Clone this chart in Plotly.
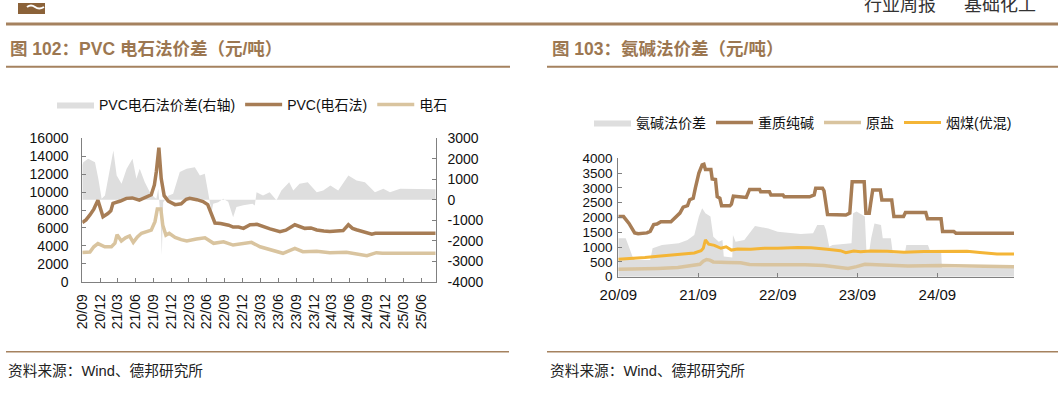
import plotly.graph_objects as go

W, H = 1064, 393

# ---------------- Left chart data (PVC) ----------------
pvc_dates = ["2020-09-01","2020-09-20","2020-10-10","2020-10-30","2020-11-20","2020-12-01","2020-12-16",
             "2021-01-10","2021-01-25","2021-02-05","2021-02-25","2021-03-15","2021-04-15","2021-05-15",
             "2021-06-20","2021-07-20","2021-08-20","2021-09-05","2021-09-15","2021-09-28","2021-10-05",
             "2021-10-10","2021-10-25","2021-11-15","2021-12-20","2022-01-20","2022-02-15","2022-03-05",
             "2022-04-10","2022-05-12","2022-06-05","2022-06-24","2022-07-12","2022-08-10","2022-08-25",
             "2022-09-20","2022-10-13","2022-11-10","2022-12-05","2023-01-08","2023-02-12","2023-03-15",
             "2023-04-20","2023-06-10","2023-07-10","2023-08-25","2023-09-20","2023-10-15","2023-11-15",
             "2023-12-15","2024-01-20","2024-02-20","2024-03-25","2024-04-28","2024-05-25","2024-06-15",
             "2024-07-05","2024-08-15","2024-09-22","2024-10-10","2025-08-15"]
pvc_price = [6600,6900,7450,8100,9100,8300,7250,
             7600,7900,8750,8850,9000,9300,9350,
             9100,9400,9700,10800,12300,14950,13000,
             11500,9600,9000,8600,8700,9200,9300,
             9150,8950,8600,7400,6550,6500,6450,
             6300,6100,6100,5950,6350,6400,6150,
             5900,5580,5750,6350,6100,5950,6000,
             5770,5650,5600,5650,5700,6350,5950,
             5800,5550,5300,5400,5400]

carbide_dates = ["2020-09-01","2020-10-10","2020-10-30","2020-11-20","2020-12-25","2021-01-28","2021-02-15",
                 "2021-02-26","2021-03-20","2021-04-10","2021-05-01","2021-05-20","2021-06-10","2021-07-01",
                 "2021-08-20","2021-09-08","2021-09-20","2021-10-08","2021-10-18","2021-11-03","2021-11-20",
                 "2021-12-20","2022-01-20","2022-02-18","2022-04-08","2022-05-22","2022-07-05","2022-08-25",
                 "2022-10-13","2022-12-05","2023-01-15","2023-02-28","2023-04-20","2023-06-25","2023-08-25",
                 "2023-10-05","2023-12-15","2024-02-20","2024-05-15","2024-08-28","2024-10-15","2024-11-15",
                 "2025-08-15"]
carbide_price = [3250,3300,3900,4250,3900,3900,4300,
                 5250,4550,4900,5100,4400,5000,5400,
                 5750,6700,8100,8100,6300,5200,5400,
                 4950,4700,4550,4760,4900,4280,4460,
                 4090,4280,4390,3900,3540,3170,3720,
                 3350,3400,3240,3280,2900,3240,3170,
                 3170]

spread_dates = ["2020-09-01","2020-09-06","2020-10-01","2020-11-05","2020-11-22","2020-12-09","2020-12-26",
                "2021-01-12","2021-02-07","2021-02-24","2021-03-21","2021-04-16","2021-05-16","2021-06-05",
                "2021-06-22","2021-07-18","2021-08-13","2021-09-03","2021-09-15","2021-09-25","2021-10-07",
                "2021-10-13","2021-10-20","2021-11-15","2021-12-10","2022-01-13","2022-02-17","2022-03-31",
                "2022-04-26","2022-05-21","2022-06-08","2022-06-25","2022-07-03","2022-07-29","2022-08-23",
                "2022-09-18","2022-10-13","2022-10-30","2022-12-04","2023-01-20","2023-02-01","2023-02-10",
                "2023-03-15","2023-04-18","2023-05-23","2023-06-17","2023-07-27","2023-08-17","2023-09-18",
                "2023-10-30","2023-12-15","2024-01-17","2024-02-23","2024-04-03","2024-05-25","2024-07-06",
                "2024-08-18","2024-10-08","2024-11-20","2024-12-24","2025-02-14","2025-08-15"]
spread_value = [1700,1835,2000,1835,1025,50,210,
                1025,2400,1190,780,1510,2000,1025,
                1510,860,370,130,50,540,-930,
                -2720,-120,200,290,1350,1510,1590,
                1190,1270,370,-600,-200,-120,50,
                -100,-850,-350,-270,-190,-280,370,
                210,370,-30,450,860,450,780,
                860,370,450,700,450,1190,940,
                860,370,540,370,540,510]

left_ticks = ["2020-09-01","2020-12-01","2021-03-01","2021-06-01","2021-09-01","2021-12-01","2022-03-01",
              "2022-06-01","2022-09-01","2022-12-01","2023-03-01","2023-06-01","2023-09-01","2023-12-01",
              "2024-03-01","2024-06-01","2024-09-01","2024-12-01","2025-03-01","2025-06-01"]
left_tick_text = ["20/09","20/12","21/03","21/06","21/09","21/12","22/03","22/06","22/09","22/12",
                  "23/03","23/06","23/09","23/12","24/03","24/06","24/09","24/12","25/03","25/06"]
left_y_ticks = [0, 2000, 4000, 6000, 8000, 10000, 12000, 14000, 16000]
right_y_ticks = [-4000, -3000, -2000, -1000, 0, 1000, 2000, 3000]

# ---------------- Right chart data (ammonia-soda) ----------------
soda_dates = ["2020-09-01","2020-09-25","2020-10-20","2020-11-15","2020-12-01","2021-01-10","2021-01-25",
              "2021-02-10","2021-02-25","2021-03-15","2021-04-30","2021-05-15","2021-06-10","2021-06-25",
              "2021-07-15","2021-07-25","2021-08-10","2021-08-20","2021-09-05","2021-09-20","2021-09-28",
              "2021-10-05","2021-10-30","2021-11-05","2021-11-20","2021-11-28","2021-12-10","2021-12-18",
              "2022-01-25","2022-02-01","2022-02-10","2022-04-10","2022-04-25","2022-06-10","2022-06-15",
              "2022-07-25","2022-08-01","2022-09-25","2022-10-01","2023-01-25","2023-02-15","2023-02-22",
              "2023-03-25","2023-04-01","2023-04-17","2023-07-10","2023-07-28","2023-08-08","2023-10-02",
              "2023-10-10","2023-10-25","2023-11-01","2023-11-10","2023-12-15","2023-12-22","2024-02-05",
              "2024-02-15","2024-03-30","2024-04-08","2024-07-10","2024-07-18","2024-09-18","2024-09-25",
              "2024-11-15","2024-11-25","2025-08-18"]
soda_price = [2030,2030,1800,1480,1450,1480,1530,
              1760,1780,1860,1860,1960,2150,2350,
              2400,2600,2650,3000,3500,3780,3800,
              3620,3620,3300,3280,2700,2650,2400,
              2400,2450,2720,2680,2950,2950,2870,
              2870,2760,2760,2700,2700,2760,2990,
              2990,2900,2100,2085,2150,3210,3210,
              2140,2140,2500,2930,2930,2590,2590,
              2030,2030,2170,2170,1960,1960,1530,
              1530,1470,1470]

salt_dates = ["2020-09-01","2020-12-01","2021-03-01","2021-06-01","2021-08-01","2021-09-10","2021-09-25",
              "2021-10-10","2021-10-25","2021-11-10","2022-01-15","2022-03-15","2022-04-25","2022-09-01",
              "2022-12-15","2023-01-05","2023-04-01","2023-06-05","2023-07-20","2023-08-28","2023-10-05",
              "2023-12-25","2024-04-20","2024-09-15","2025-01-20","2025-08-18"]
salt_price = [250,260,280,310,360,420,520,
              580,560,500,480,470,410,400,
              420,400,380,315,280,340,420,
              395,365,375,355,340]

coal_dates = ["2020-09-01","2020-11-01","2021-01-01","2021-03-01","2021-06-01","2021-08-15","2021-09-15",
              "2021-09-25","2021-10-05","2021-10-20","2021-11-15","2021-12-15","2022-01-08","2022-02-01",
              "2022-03-01","2022-05-01","2022-07-01","2022-09-01","2022-12-01","2023-02-01","2023-04-15",
              "2023-06-15","2023-07-10","2023-08-15","2023-09-15","2023-11-01","2024-01-15","2024-04-01",
              "2024-07-01","2024-10-15","2025-01-15","2025-03-15","2025-06-01","2025-08-18"]
coal_price = [590,610,645,690,740,800,880,
              960,1240,1100,1060,960,1010,900,
              935,930,960,960,990,980,930,
              880,810,870,840,870,860,830,
              850,850,860,820,770,770]

ammonia_dates = ["2020-09-01","2020-10-05","2020-10-20","2020-11-05","2020-11-15","2021-01-25","2021-02-05",
                 "2021-03-20","2021-06-05","2021-07-15","2021-08-15","2021-09-05","2021-09-20","2021-10-05",
                 "2021-10-28","2021-11-10","2021-12-05","2021-12-22","2021-12-28","2022-02-05","2022-02-08",
                 "2022-02-20","2022-04-01","2022-05-05","2022-05-20","2022-07-20","2022-09-01","2022-12-15",
                 "2023-02-10","2023-03-01","2023-04-01","2023-04-10","2023-04-25","2023-05-10","2023-08-05",
                 "2023-08-12","2023-08-28","2023-10-05","2023-10-12","2023-10-26","2023-11-03","2023-11-18",
                 "2023-12-18","2023-12-26","2024-02-01","2024-02-10","2024-04-05","2024-04-12","2024-07-20",
                 "2024-07-28","2024-09-18","2024-09-22","2025-08-18"]
ammonia_spread = [1300,1300,1000,680,560,560,960,
                  1070,1130,1240,1410,2030,2310,2140,
                  2030,1350,1180,1240,680,650,1410,
                  1180,1240,1580,1710,1630,1520,1440,
                  1465,1750,1750,1580,1010,1070,1130,
                  2140,2200,2030,900,900,1300,1800,
                  1750,1300,1300,790,790,1070,1070,
                  900,900,300,300]

right_ticks = ["2020-09-01","2021-09-01","2022-09-01","2023-09-01","2024-09-01"]
right_tick_text = ["20/09","21/09","22/09","23/09","24/09"]

# ---------------- styling ----------------
BROWN = "#A77D55"
TAN = "#D9C49F"
GRAY = "#DEDEDE"
ORANGE = "#F4B536"
TITLE_BROWN = "#9C7751"
RULE = "#A5825F"
AXIS = "#808080"
FONT = "Liberation Sans, Arial, Noto Sans CJK SC, sans-serif"


def px(x):
    return x / W


def py(y):
    return 1 - y / H


fig = go.Figure()

# Left chart: spread on base y (right side), lines on y2 overlaid (left side)
fig.add_trace(go.Scatter(x=spread_dates, y=spread_value, name="PVC电石法价差(右轴)", mode="lines",
                         line=dict(width=0, color=GRAY), fill="tozeroy", fillcolor=GRAY,
                         xaxis="x", yaxis="y", legend="legend"))
fig.add_trace(go.Scatter(x=pvc_dates, y=pvc_price, name="PVC(电石法)", mode="lines",
                         line=dict(width=3.5, color=BROWN), xaxis="x", yaxis="y2", legend="legend"))
fig.add_trace(go.Scatter(x=carbide_dates, y=carbide_price, name="电石", mode="lines",
                         line=dict(width=3.5, color=TAN), xaxis="x", yaxis="y2", legend="legend"))

# Right chart
fig.add_trace(go.Scatter(x=ammonia_dates, y=ammonia_spread, name="氨碱法价差", mode="lines",
                         line=dict(width=0, color=GRAY), fill="tozeroy", fillcolor=GRAY,
                         xaxis="x2", yaxis="y3", legend="legend2"))
fig.add_trace(go.Scatter(x=soda_dates, y=soda_price, name="重质纯碱", mode="lines",
                         line=dict(width=3.5, color=BROWN), xaxis="x2", yaxis="y3", legend="legend2"))
fig.add_trace(go.Scatter(x=salt_dates, y=salt_price, name="原盐", mode="lines",
                         line=dict(width=3.5, color=TAN), xaxis="x2", yaxis="y3", legend="legend2"))
fig.add_trace(go.Scatter(x=coal_dates, y=coal_price, name="烟煤(优混)", mode="lines",
                         line=dict(width=3, color=ORANGE), xaxis="x2", yaxis="y3", legend="legend2"))


def axis_style(size):
    return dict(showgrid=False, zeroline=False, showline=True, linecolor=AXIS, linewidth=1,
                ticks="inside", ticklen=4, tickcolor=AXIS,
                tickfont=dict(family=FONT, size=size, color="#111"))


fig.update_layout(
    width=W, height=H, margin=dict(l=0, r=0, t=0, b=0, autoexpand=False),
    paper_bgcolor="white", plot_bgcolor="white",
    font=dict(family=FONT, size=14, color="#111"),
    xaxis=dict(domain=[px(82.3), px(435.7)], type="date", range=["2020-09-01", "2025-08-15"],
               tickmode="array", tickvals=left_ticks, ticktext=left_tick_text, tickangle=-90,
               anchor="y2", ticklabelstandoff=6, **axis_style(14)),
    yaxis=dict(domain=[py(281.7), py(138.3)], range=[-4000, 3000], side="right",
               tickmode="array", tickvals=right_y_ticks, ticktext=[str(v) for v in right_y_ticks],
               anchor="x", ticklabelstandoff=8, **axis_style(14)),
    yaxis2=dict(domain=[py(281.7), py(138.3)], range=[0, 16000], side="left",
                tickmode="array", tickvals=left_y_ticks, ticktext=[str(v) for v in left_y_ticks],
                overlaying="y", anchor="x", ticklabelstandoff=10, **axis_style(14)),
    xaxis2=dict(domain=[px(618.3), px(1014)], type="date", range=["2020-09-01", "2025-08-18"],
                tickmode="array", tickvals=right_ticks, ticktext=right_tick_text,
                anchor="y3", ticklabelstandoff=4, **axis_style(15)),
    yaxis3=dict(domain=[py(276.7), py(158.3)], range=[0, 4000], dtick=500, tickformat="d", anchor="x2",
                ticklabelstandoff=2, **axis_style(13.5)),
    legend=dict(orientation="h", x=px(52), y=py(105), xanchor="left", yanchor="middle",
                font=dict(family=FONT, size=14, color="#111"), bgcolor="rgba(0,0,0,0)",
                itemwidth=37, traceorder="normal"),
    legend2=dict(orientation="h", x=px(589), y=py(123), xanchor="left", yanchor="middle",
                 font=dict(family=FONT, size=14, color="#111"), bgcolor="rgba(0,0,0,0)",
                 itemwidth=37, traceorder="normal"),
    showlegend=True,
)

shapes = []


def hline(x0, x1, y, w):
    shapes.append(dict(type="line", xref="paper", yref="paper", x0=px(x0), x1=px(x1), y0=py(y), y1=py(y),
                       line=dict(color=RULE, width=w)))


hline(6, 1058, 24, 3)
hline(6, 510, 66.7, 2)
hline(547, 1058, 66.7, 2)
hline(6, 509, 351.7, 1.5)
hline(547, 1058, 351.7, 1.5)
shapes.append(dict(type="rect", xref="paper", yref="paper", x0=px(18), x1=px(45), y0=py(14), y1=py(3),
                   fillcolor="#8B6239", line=dict(width=0)))
shapes.append(dict(type="path", xref="paper", yref="paper",
                   path=f"M {px(27)},{py(7)} Q {px(31)},{py(4)} {px(35)},{py(7)} T {px(44)},{py(7)}",
                   line=dict(color="white", width=2)))
fig.update_layout(shapes=shapes)

ann = [
    dict(text="图 102：PVC 电石法价差（元/吨）", x=px(8), y=py(49), xanchor="left", yanchor="middle",
         font=dict(family=FONT, size=17.5, color=TITLE_BROWN, weight="bold")),
    dict(text="图 103：氨碱法价差（元/吨）", x=px(550), y=py(49), xanchor="left", yanchor="middle",
         font=dict(family=FONT, size=17.5, color=TITLE_BROWN, weight="bold")),
    dict(text="资料来源：Wind、德邦研究所", x=px(6), y=py(370), xanchor="left", yanchor="middle",
         font=dict(family=FONT, size=14.7, color="#222")),
    dict(text="资料来源：Wind、德邦研究所", x=px(548), y=py(370), xanchor="left", yanchor="middle",
         font=dict(family=FONT, size=14.7, color="#222")),
    dict(text="行业周报", x=px(938), y=py(5), xanchor="right", yanchor="middle",
         font=dict(family=FONT, size=18, color="#333")),
    dict(text="基础化工", x=px(1038), y=py(5), xanchor="right", yanchor="middle",
         font=dict(family=FONT, size=18, color="#333")),
]
for a in ann:
    a.update(xref="paper", yref="paper", showarrow=False)
fig.update_layout(annotations=ann)

fig.write_html("out.html", config={"displayModeBar": False},
               post_script="document.body.style.margin='0';")
